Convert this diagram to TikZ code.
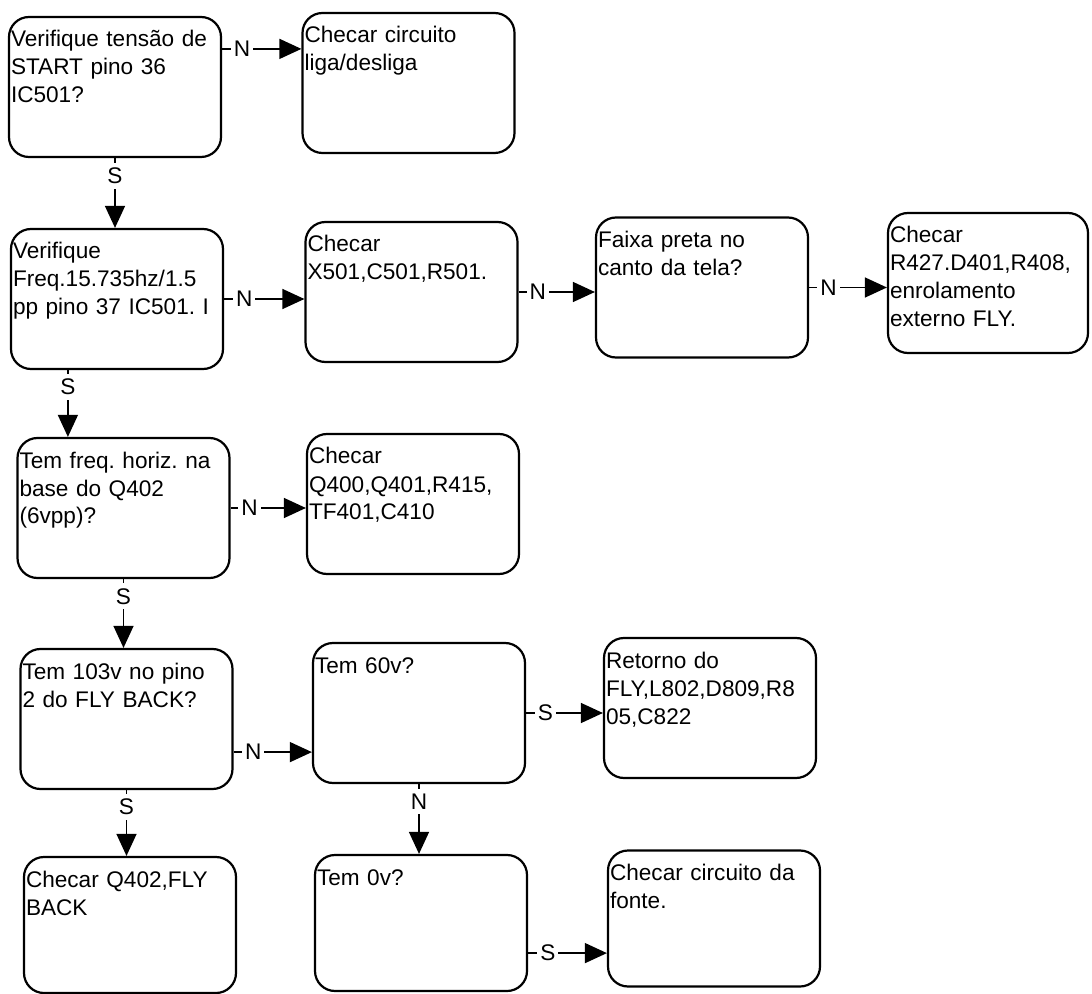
\documentclass[tikz,border=0pt]{standalone}
\usepackage{fontspec}
\setmainfont{Liberation Sans}
\usetikzlibrary{positioning}
\usetikzlibrary{arrows.meta}
\frenchspacing

\begin{document}
\begin{tikzpicture}[x=0.5pt, y=-0.5pt,
        font=\fontsize{11.3}{14}\selectfont,
        box/.style={draw, line width=1.1pt, rounded corners=10pt, align=left,
            text width=104pt, inner xsep=1pt, inner ysep=5.5pt,
            text height=9.5pt, text depth=49.5pt},
        short/.style={text depth=47.5pt},
        arr/.style={-{Triangle[length=11pt,width=10pt]}, line width=0.7pt},
        lbl/.style={fill=white, inner xsep=1.5pt, inner ysep=2.5pt}]
            \useasboundingbox (0,0) rectangle (1092,994);
            % Caixas do fluxograma
            \node[box] (a1) at (115,87) {Verifique tensão de\\START pino 36\\IC501?};
            \node[box] (b1) at (408.5,83) {Checar circuito\\liga/desliga};
            
            \node[box] (a2) at (117,299) {Verifique\\Freq.15.735hz/1.5\\pp pino 37 IC501. I};
            \node[box] (b2) at (411.5,292) {Checar\\X501,C501,R501.};
            \node[box] (c2) at (702,287.5) {Faixa preta no\\canto da tela?};
            \node[box, text width=98pt] (d2) at (988,283) {Checar\\R427.D401,R408,\\enrolamento\\externo FLY.};
            
            \node[box] (a3) at (123.5,508) {Tem freq. horiz. na\\base do Q402\\(6vpp)?};
            \node[box] (b3) at (413,504) {Checar\\Q400,Q401,R415,\\TF401,C410};
            
            \node[box] (a4) at (126.5,719) {Tem 103v no pino\\2 do FLY BACK?};
            \node[box] (b4) at (419,713) {Tem 60v?};
            \node[box] (c4) at (710,708) {Retorno do\\FLY,L802,D809,R8\\05,C822};
            
            \node[box, short] (a5) at (130,925) {Checar Q402,FLY\\BACK};
            \node[box, short] (b5) at (421,923) {Tem 0v?};
            \node[box, short] (c5) at (714,918.5) {Checar circuito da\\fonte.};
            
            % Pontos de saida fora do centro
            \coordinate (n1) at ([yshift=-16.5pt]a1.north east);
            \coordinate (s2) at ([xshift=29pt]a2.south west);
            \coordinate (n4) at ([yshift=19pt]a4.south east);
            \coordinate (s5) at ([yshift=19.5pt]b5.south east);
            
            \draw[arr] (n1) -- node[lbl, near start] {N} (n1 -| b1.west);
            \draw[arr] (a1.south) -- node[lbl, near start] {S} (a1.south |- a2.north);
            \draw[arr] (a2.east) -- node[lbl, near start] {N} (a2.east -| b2.west);
            \draw[arr] (b2.east) -- node[lbl, near start] {N} (b2.east -| c2.west);
            \draw[arr] (c2.east) -- node[lbl, near start] {N} (c2.east -| d2.west);
            \draw[arr] (s2) -- node[lbl, near start] {S} (s2 |- a3.north);
            \draw[arr] (a3.east) -- node[lbl, near start] {N} (a3.east -| b3.west);
            \draw[arr] (a3.south) -- node[lbl, near start] {S} (a3.south |- a4.north);
            \draw[arr] (n4) -- node[lbl, near start] {N} (n4 -| b4.west);
            \draw[arr] (a4.south) -- node[lbl, near start] {S} (a4.south |- a5.north);
            \draw[arr] (b4.east) -- node[lbl, near start] {S} (b4.east -| c4.west);
            \draw[arr] (b4.south) -- node[lbl, near start] {N} (b4.south |- b5.north);
            \draw[arr] (s5) -- node[lbl, near start] {S} (s5 -| c5.west);
        \end{tikzpicture}
\end{document}
